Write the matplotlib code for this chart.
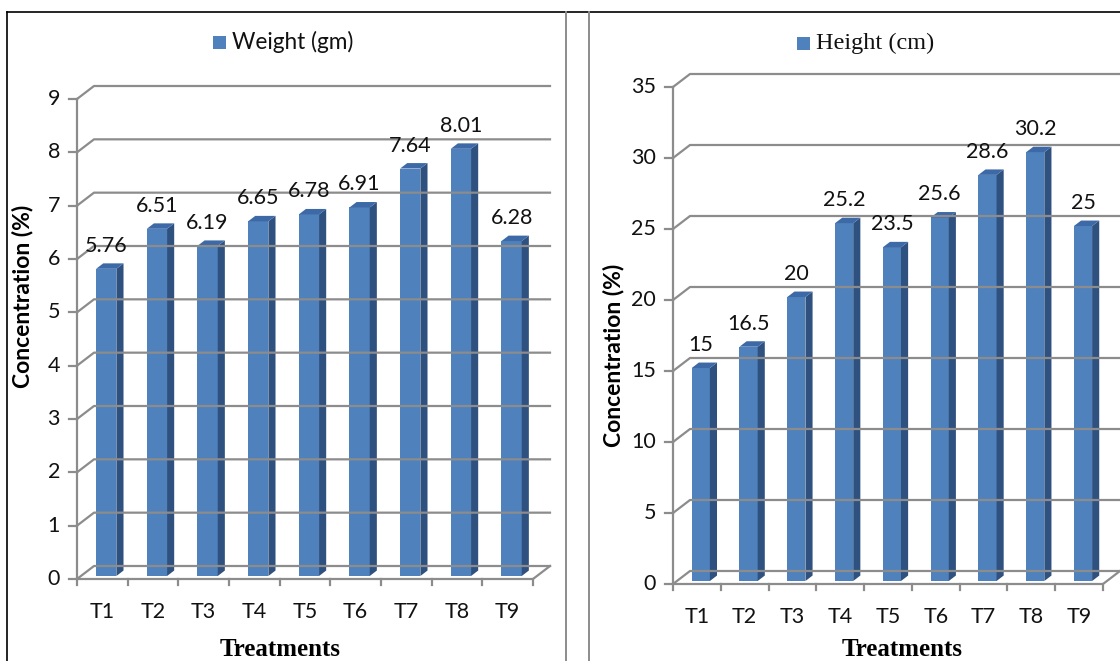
import matplotlib
matplotlib.use("Agg")
import matplotlib.pyplot as plt
from matplotlib.patches import Polygon, Rectangle
from matplotlib.lines import Line2D
from matplotlib.transforms import IdentityTransform

# ---- data ----
treatments = ["T1", "T2", "T3", "T4", "T5", "T6", "T7", "T8", "T9"]
weight_gm = [5.76, 6.51, 6.19, 6.65, 6.78, 6.91, 7.64, 8.01, 6.28]
height_cm = [15, 16.5, 20, 25.2, 23.5, 25.6, 28.6, 30.2, 25]
weight_labels = ["5.76", "6.51", "6.19", "6.65", "6.78", "6.91", "7.64", "8.01", "6.28"]
height_labels = ["15", "16.5", "20", "25.2", "23.5", "25.6", "28.6", "30.2", "25"]
weight_ticks = list(range(0, 10))
height_ticks = list(range(0, 36, 5))

# ---- style ----
FRONT = "#4F81BD"
SIDE = "#2F5180"
TOP = "#3D6AA6"
GRID = "#8C8C8C"
SANS = "Lato"
SERIF = "Liberation Serif"
NUM_SIZE = 15.5
DEPTH = (17.0, 13.0)  # pixel shift from front plane to back wall

W, H = 1120, 661
fig = plt.figure(figsize=(W / 100, H / 100), dpi=100)


def fx(px):
    return px / W


def fy(py):
    return 1 - py / H


def make_panel(rect, values, labels, ticks, ymax, legend_text, legend_font,
               legend_size, bar_w, ylabel_xy, xlabel_xy, legend_xy):
    ax = fig.add_axes(rect)
    ax.set_xlim(0, len(values))
    ax.set_ylim(0, ymax)
    ax.axis("off")
    n = len(values)

    def P(x, y, z=0.0):
        X, Y = ax.transData.transform((x, y))
        return (X + z * DEPTH[0], Y + z * DEPTH[1])

    def add(artist):
        artist.set_transform(IdentityTransform())
        artist.set_clip_on(False)
        ax.add_artist(artist)

    # walls: side diagonals + back gridlines
    for t in ticks:
        add(Line2D(*zip(P(0, t), P(0, t, 1), P(n, t, 1)), color=GRID, lw=1.6))
    # floor
    add(Line2D(*zip(P(0, 0), P(n, 0), P(n, 0, 1)), color=GRID, lw=1.6))
    # value axis
    add(Line2D(*zip(P(0, 0), P(0, ticks[-1])), color=GRID, lw=1.6))
    for t in ticks:
        a = P(0, t)
        add(Line2D([a[0] - 8, a[0]], [a[1], a[1]], color=GRID, lw=1.6))
        ax.text(a[0] - 17, a[1], str(t), transform=IdentityTransform(),
                ha="right", va="center", fontsize=NUM_SIZE, family=SANS, color="#111111")
    # category ticks
    for i in range(n + 1):
        a = P(i, 0)
        add(Line2D([a[0], a[0]], [a[1], a[1] - 6], color=GRID, lw=1.6))
    for i, name in enumerate(treatments):
        a = P(i + 0.5, 0)
        ax.text(a[0], a[1] - 33, name, transform=IdentityTransform(),
                ha="center", va="center", fontsize=NUM_SIZE, family=SANS, color="#111111")

    # bars
    f, d = 0.23, 0.42
    for i, (v, lab) in enumerate(zip(values, labels)):
        x0 = i + 0.5 - bar_w / 2
        x1 = i + 0.5 + bar_w / 2
        front = [P(x0, 0, f), P(x1, 0, f), P(x1, v, f), P(x0, v, f)]
        side = [P(x1, 0, f), P(x1, 0, f + d), P(x1, v, f + d), P(x1, v, f)]
        top = [P(x0, v, f), P(x1, v, f), P(x1, v, f + d), P(x0, v, f + d)]
        add(Polygon(front, closed=True, facecolor=FRONT, edgecolor="none"))
        add(Polygon(side, closed=True, facecolor=SIDE, edgecolor="none"))
        add(Polygon(top, closed=True, facecolor=TOP, edgecolor="none"))
        c = P(i + 0.5, v, f)
        ax.text(c[0], c[1] + 13, lab, transform=IdentityTransform(),
                ha="center", va="bottom", fontsize=NUM_SIZE, family=SANS, color="#111111")

    # axis titles
    fig.text(fx(ylabel_xy[0]), fy(ylabel_xy[1]), "Concentration (%)", rotation=90,
             ha="center", va="center", fontsize=16.5, fontweight="bold", family=SANS)
    fig.text(fx(xlabel_xy[0]), fy(xlabel_xy[1]), "Treatments",
             ha="center", va="center", fontsize=18, fontweight="bold", family=SERIF)

    # legend
    lx, ly = legend_xy
    fig.patches.append(Rectangle((fx(lx), fy(ly + 6)), fx(13), 13 / H,
                                 transform=fig.transFigure, facecolor=FRONT,
                                 edgecolor="none"))
    fig.text(fx(lx + 19), fy(ly - 1), legend_text, ha="left", va="center",
             fontsize=legend_size, family=legend_font, color="#111111")
    return ax


make_panel([fx(77), fy(579), fx(533 - 77), (579 - 99) / H], weight_gm, weight_labels,
           weight_ticks, 9, "Weight (gm)", SANS, 16.3, 0.40,
           (23, 296), (280, 650), (213, 43))
make_panel([fx(673), fy(584), fx(1103 - 673), (584 - 87) / H], height_cm, height_labels,
           height_ticks, 35, "Height (cm)", SERIF, 17.5, 0.38,
           (614, 355), (902, 650), (797, 44))

# panel frames
fig.add_artist(Line2D([fx(7), fx(7)], [fy(12), 0], transform=fig.transFigure,
                      color="black", lw=1.2))
fig.add_artist(Line2D([fx(7), 1], [fy(12), fy(12)], transform=fig.transFigure,
                      color="black", lw=1.2))
for xp in (566, 589):
    fig.add_artist(Line2D([fx(xp), fx(xp)], [fy(12), 0], transform=fig.transFigure,
                          color="#8C8C8C", lw=1.4))

fig.savefig("out.png", dpi=100)
